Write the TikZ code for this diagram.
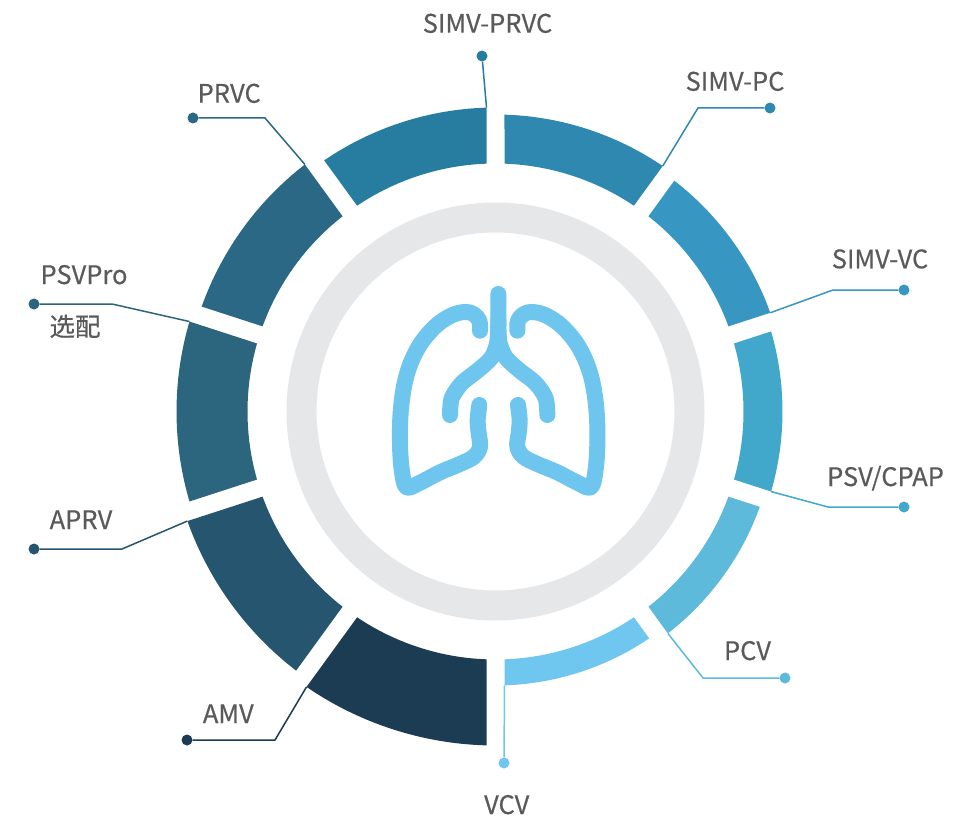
\documentclass[tikz,border=0pt]{standalone}
\usepackage{fontspec}
\newfontfamily\cjk[FakeBold=0.4]{Noto Sans CJK SC}
\definecolor{cVCV}{HTML}{6FC6EE}
\definecolor{cPCV}{HTML}{5DBADB}
\definecolor{cPSV}{HTML}{41A8CC}
\definecolor{cSVC}{HTML}{3796C2}
\definecolor{cSPC}{HTML}{2E88B0}
\definecolor{cSPR}{HTML}{267DA0}
\definecolor{cPRVC}{HTML}{2B6886}
\definecolor{cPSVP}{HTML}{2B657E}
\definecolor{cAPRV}{HTML}{26566F}
\definecolor{cAMV}{HTML}{1B3C52}
\definecolor{ringgray}{HTML}{E6E7E9}
\definecolor{lungc}{HTML}{6EC6EF}
\definecolor{txt}{HTML}{5A5A5A}
\begin{document}
\begin{tikzpicture}[x=1pt,y=-1pt,
  lbl/.style={font=\cjk\fontsize{25.5}{30}\selectfont, text=txt, anchor=base, inner sep=0pt},
  dotn/.style={circle, fill=#1, minimum size=11pt, inner sep=0pt},
  lead/.style={draw=#1, line width=1.5pt},
  lung/.style={draw=lungc, line width=16pt, line cap=round, line join=round}]
\useasboundingbox (0,0) rectangle (963,818);
\fill[white] (0,0) rectangle (963,818);
\coordinate (C) at (495.5,411.5);
% gray ring
\draw[ringgray, line width=30pt] (C) circle[radius=194];
% segments
\begin{scope}[shift={(495.5,411.5)}]
\foreach \a/\ro/\col/\nm in {-90/274/cVCV/vcv, -54/281/cPCV/pcv, -18/287/cPSV/psv,
   18/292/cSVC/svc, 54/297/cSPC/spc, 90/304/cSPR/spr, 126/312/cPRVC/prvc,
   162/319/cPSVP/psvp, 198/327/cAPRV/aprv, 234/334/cAMV/amv}{
  \pgfmathsetmacro\sa{-\a-asin(9/248)}
  \pgfmathsetmacro\ea{-\a-36+asin(9/248)}
  \pgfmathsetmacro\sb{-\a-36+asin(9/\ro)}
  \pgfmathsetmacro\eb{-\a-asin(9/\ro)}
  \fill[\col] (\sa:248) arc[start angle=\sa, end angle=\ea, radius=248]
     -- (\sb:\ro) arc[start angle=\sb, end angle=\eb, radius=\ro] -- cycle;
  \coordinate (k-\nm) at (\eb:\ro);
}
\end{scope}
% lungs
\begin{scope}[shift={(380,270)}, scale=1/3]
\draw[lung] plot[smooth, tension=0.6] coordinates {(300,182) (298,152) (280,132) (255,126) (215,136) (165,170) (115,232) (80,315) (63,415) (60,520) (66,605) (80,652) (120,638) (180,607) (240,582) (282,560) (300,530) (296,490) (293,450) (298,405)};
\draw[lung] plot[smooth, tension=0.6] coordinates {(412,182) (414,152) (432,132) (457,126) (497,136) (547,170) (597,232) (632,315) (649,415) (652,520) (646,605) (632,652) (592,638) (532,607) (472,582) (430,560) (412,530) (416,490) (419,450) (414,405)};
\draw[lung] plot[smooth] coordinates {(355,72) (355,150) (352,215) (335,262) (295,300) (245,340) (215,385) (210,435)};
\draw[lung] plot[smooth] coordinates {(355,150) (358,215) (377,262) (417,300) (467,340) (497,385) (502,435)};
\end{scope}
% elbows
\coordinate (e-spc) at (698,108);
\coordinate (e-svc) at (833,290);
\coordinate (e-psv) at (828,507);
\coordinate (e-pcv) at (703,678);
\coordinate (e-amv) at (275,740);
\coordinate (e-aprv) at (122,549);
\coordinate (e-psvp) at (112,304);
\coordinate (e-prvc) at (265,118);
% dots
\node[dotn=cSPR] (d-spr) at (482,56) {};
\node[dotn=cSPC] (d-spc) at (770,108) {};
\node[dotn=cSVC] (d-svc) at (904,290) {};
\node[dotn=cPSV] (d-psv) at (904,507) {};
\node[dotn=cPCV] (d-pcv) at (785,678) {};
\node[dotn=cVCV] (d-vcv) at (504,763) {};
\node[dotn=cAMV] (d-amv) at (187,740) {};
\node[dotn=cAPRV] (d-aprv) at (34,549) {};
\node[dotn=cPSVP] (d-psvp) at (34,304) {};
\node[dotn=cPRVC] (d-prvc) at (193,118) {};
% leaders
\draw[lead=cSPR] (k-spr) -- (d-spr);
\draw[lead=cSPC] (k-spc) -- (e-spc) -- (d-spc);
\draw[lead=cSVC] (k-svc) -- (e-svc) -- (d-svc);
\draw[lead=cPSV] (k-psv) -- (e-psv) -- (d-psv);
\draw[lead=cPCV] (k-pcv) -- (e-pcv) -- (d-pcv);
\draw[lead=cVCV] (k-vcv) -- (d-vcv);
\draw[lead=cAMV] (k-amv) -- (e-amv) -- (d-amv);
\draw[lead=cAPRV] (k-aprv) -- (e-aprv) -- (d-aprv);
\draw[lead=cPSVP] (k-psvp) -- (e-psvp) -- (d-psvp);
\draw[lead=cPRVC] (k-prvc) -- (e-prvc) -- (d-prvc);
% labels
\node[lbl] (t-spr) at (487.5,32.7) {SIMV-PRVC};
\node[lbl] (t-spc) at (735,90.7) {SIMV-PC};
\node[lbl] (t-svc) at (880,268.3) {SIMV-VC};
\node[lbl] (t-psv) at (885.5,486) {PSV/CPAP};
\node[lbl] (t-pcv) at (747.5,660) {PCV};
\node[lbl] (t-vcv) at (506.7,814) {VCV};
\node[lbl] (t-amv) at (228.3,723) {AMV};
\node[lbl] (t-aprv) at (81,529) {APRV};
\node[lbl] (t-psvp) at (84,284) {PSVPro};
\node[lbl] (t-xp) at (75,336) {选配};
\node[lbl] (t-prvc) at (229.2,102.7) {PRVC};
\end{tikzpicture}
\end{document}
